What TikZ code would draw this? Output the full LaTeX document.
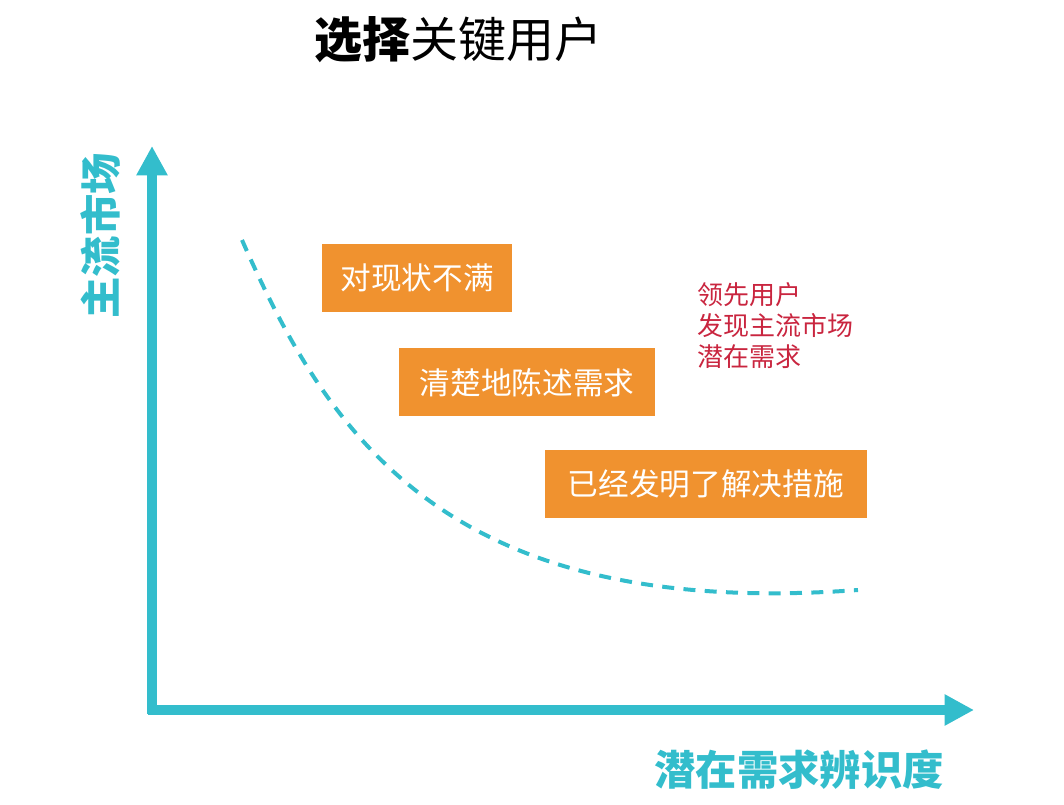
\documentclass[tikz,border=0pt]{standalone}
\usepackage{fontspec}
\newfontfamily\cjk{Noto Sans CJK SC}
\usetikzlibrary{arrows.meta}
\definecolor{teal1}{HTML}{33BDCC}
\definecolor{orng}{HTML}{F0922F}
\definecolor{redt}{HTML}{C9253F}
\begin{document}
\begin{tikzpicture}[x=0.75pt,y=-0.75pt,
  box/.style={fill=orng,text=white,font=\cjk\fontsize{23}{27}\selectfont,inner sep=0pt,anchor=north west}]
\useasboundingbox (0,0) rectangle (1064,805);
\node[anchor=center,font=\cjk\fontsize{36}{40}\selectfont] (title) at (458,40) {\textbf{选择}关键用户};
\coordinate (o) at (152,710);
\coordinate (ytip) at (152,146);
\coordinate (xtip) at (974,710);
\draw[teal1,line width=7pt,-{Triangle[length=22pt,width=22pt]}] (152,714) -- (ytip);
\draw[teal1,line width=7pt,-{Triangle[length=22pt,width=22pt]}] (148,710) -- (xtip);
\node[rotate=90,text=teal1,font=\cjk\bfseries\fontsize{31}{34}\selectfont] (ylab) at (100,236) {主流市场};
\node[text=teal1,font=\cjk\bfseries\fontsize{31}{34}\selectfont] (xlab) at (799,770) {潜在需求辨识度};
\draw[teal1,line width=3pt,dash pattern=on 9pt off 7pt] (242,240) .. controls (330,440) and (450,620) .. (858,590);
\node[box,minimum width=142.5pt,minimum height=51pt] (b1) at (322,244) {对现状不满};
\node[box,minimum width=192pt,minimum height=51pt] (b2) at (399,348) {清楚地陈述需求};
\node[box,minimum width=241pt,minimum height=51pt] (b3) at (545,450) {已经发明了解决措施};
\node[anchor=north west,align=left,text=redt,font=\cjk\fontsize{19.5}{23.5}\selectfont,inner sep=0pt] (r) at (697,282) {领先用户\\发现主流市场\\潜在需求};
\end{tikzpicture}
\end{document}
